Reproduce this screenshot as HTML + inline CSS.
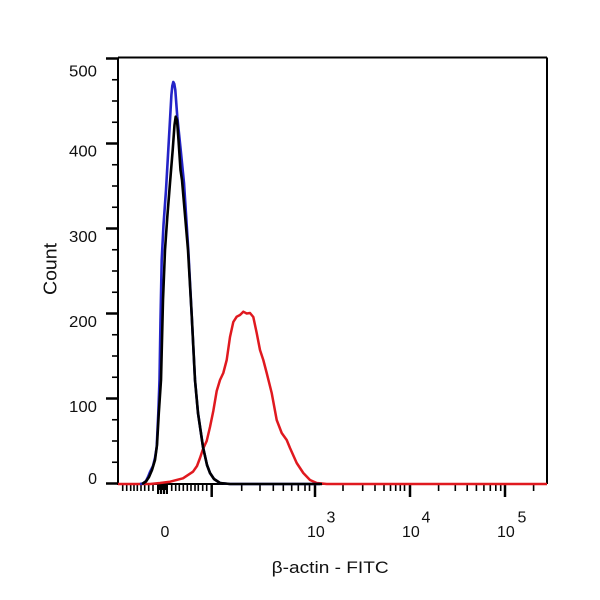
<!DOCTYPE html>
<html>
<head>
<meta charset="utf-8">
<style>
  html,body{margin:0;padding:0;background:#fff;}
  svg{display:block;}
  text{font-family:"Liberation Sans",Arial,sans-serif;fill:#111;}
</style>
</head>
<body>
<svg width="600" height="600" viewBox="0 0 600 600" xmlns="http://www.w3.org/2000/svg">
  <rect width="600" height="600" fill="#fff"/>

  <g stroke="#000" stroke-width="2" fill="none">
    <line x1="118" y1="57.5" x2="547" y2="57.5"/>
    <line x1="547" y1="57.5" x2="547" y2="484"/>
    <line x1="118" y1="57.5" x2="118" y2="484"/>
    <line x1="117" y1="484" x2="547" y2="484"/>
  </g>

  <g stroke="#000" stroke-width="2.5">
    <line x1="106" y1="58.5" x2="118" y2="58.5"/>
    <line x1="106" y1="143.5" x2="118" y2="143.5"/>
    <line x1="106" y1="228.5" x2="118" y2="228.5"/>
    <line x1="106" y1="313.5" x2="118" y2="313.5"/>
    <line x1="106" y1="398.5" x2="118" y2="398.5"/>
    <line x1="106" y1="483.5" x2="118" y2="483.5"/>
  </g>
  <g stroke="#000" stroke-width="1.6">
    <line x1="112" y1="79.75" x2="118" y2="79.75"/>
    <line x1="112" y1="101" x2="118" y2="101"/>
    <line x1="112" y1="122.25" x2="118" y2="122.25"/>
    <line x1="112" y1="164.75" x2="118" y2="164.75"/>
    <line x1="112" y1="186" x2="118" y2="186"/>
    <line x1="112" y1="207.25" x2="118" y2="207.25"/>
    <line x1="112" y1="249.75" x2="118" y2="249.75"/>
    <line x1="112" y1="271" x2="118" y2="271"/>
    <line x1="112" y1="292.25" x2="118" y2="292.25"/>
    <line x1="112" y1="334.75" x2="118" y2="334.75"/>
    <line x1="112" y1="356" x2="118" y2="356"/>
    <line x1="112" y1="377.25" x2="118" y2="377.25"/>
    <line x1="112" y1="419.75" x2="118" y2="419.75"/>
    <line x1="112" y1="441" x2="118" y2="441"/>
    <line x1="112" y1="462.25" x2="118" y2="462.25"/>
  </g>

  <g font-size="16" text-anchor="end">
    <text x="97" y="76.5" textLength="28" lengthAdjust="spacingAndGlyphs">500</text>
    <text x="97" y="156.5" textLength="28" lengthAdjust="spacingAndGlyphs">400</text>
    <text x="97" y="242" textLength="28" lengthAdjust="spacingAndGlyphs">300</text>
    <text x="97" y="327" textLength="28" lengthAdjust="spacingAndGlyphs">200</text>
    <text x="97" y="412" textLength="28" lengthAdjust="spacingAndGlyphs">100</text>
    <text x="97" y="484">0</text>
  </g>

  <g stroke="#000" stroke-width="1.6">
    <line x1="122.7" y1="484" x2="122.7" y2="491"/>
    <line x1="126.7" y1="484" x2="126.7" y2="491"/>
    <line x1="130.7" y1="484" x2="130.7" y2="491"/>
    <line x1="134" y1="484" x2="134" y2="491"/>
    <line x1="137.3" y1="484" x2="137.3" y2="491"/>
    <line x1="141" y1="484" x2="141" y2="491"/>
    <line x1="144.7" y1="484" x2="144.7" y2="491"/>
    <line x1="148.7" y1="484" x2="148.7" y2="491"/>
    <line x1="153" y1="484" x2="153" y2="491"/>
    <line x1="171.7" y1="484" x2="171.7" y2="491"/>
    <line x1="175.7" y1="484" x2="175.7" y2="491"/>
    <line x1="179.3" y1="484" x2="179.3" y2="491"/>
    <line x1="183.3" y1="484" x2="183.3" y2="491"/>
    <line x1="187.3" y1="484" x2="187.3" y2="491"/>
    <line x1="191" y1="484" x2="191" y2="491"/>
    <line x1="195" y1="484" x2="195" y2="491"/>
    <line x1="198.3" y1="484" x2="198.3" y2="491"/>
    <line x1="202.7" y1="484" x2="202.7" y2="491"/>
    <line x1="206.7" y1="484" x2="206.7" y2="491"/>
    <line x1="241.7" y1="484" x2="241.7" y2="491"/>
    <line x1="260" y1="484" x2="260" y2="491"/>
    <line x1="273.3" y1="484" x2="273.3" y2="491"/>
    <line x1="283.3" y1="484" x2="283.3" y2="491"/>
    <line x1="291.7" y1="484" x2="291.7" y2="491"/>
    <line x1="298.3" y1="484" x2="298.3" y2="491"/>
    <line x1="305" y1="484" x2="305" y2="491"/>
    <line x1="309.5" y1="484" x2="309.5" y2="491"/>
    <line x1="343" y1="484" x2="343" y2="491"/>
    <line x1="362.7" y1="484" x2="362.7" y2="491"/>
    <line x1="375" y1="484" x2="375" y2="491"/>
    <line x1="384" y1="484" x2="384" y2="491"/>
    <line x1="390.5" y1="484" x2="390.5" y2="491"/>
    <line x1="395.7" y1="484" x2="395.7" y2="491"/>
    <line x1="400.3" y1="484" x2="400.3" y2="491"/>
    <line x1="404.5" y1="484" x2="404.5" y2="491"/>
    <line x1="438.6" y1="484" x2="438.6" y2="491"/>
    <line x1="455.3" y1="484" x2="455.3" y2="491"/>
    <line x1="467.2" y1="484" x2="467.2" y2="491"/>
    <line x1="476.4" y1="484" x2="476.4" y2="491"/>
    <line x1="483.9" y1="484" x2="483.9" y2="491"/>
    <line x1="490.3" y1="484" x2="490.3" y2="491"/>
    <line x1="495.8" y1="484" x2="495.8" y2="491"/>
    <line x1="500.7" y1="484" x2="500.7" y2="491"/>
    <line x1="533.6" y1="484" x2="533.6" y2="491"/>
  </g>
  <rect x="157" y="484" width="11" height="10" fill="#000"/>
  <g stroke="#fff" stroke-width="0.8">
    <line x1="159.5" y1="490" x2="159.5" y2="494"/>
    <line x1="162.5" y1="490" x2="162.5" y2="494"/>
    <line x1="165.5" y1="490" x2="165.5" y2="494"/>
  </g>
  <g stroke="#000" stroke-width="2.5">
    <line x1="211.7" y1="484" x2="211.7" y2="497"/>
    <line x1="315" y1="484" x2="315" y2="497"/>
    <line x1="410" y1="484" x2="410" y2="497"/>
    <line x1="505" y1="484" x2="505" y2="497"/>
  </g>

  <g font-size="16">
    <text x="165" y="537" text-anchor="middle">0</text>
    <text x="307" y="537">10</text><text x="326.5" y="522.5">3</text>
    <text x="402" y="537">10</text><text x="421.5" y="522.5">4</text>
    <text x="497" y="537">10</text><text x="517.5" y="522.5">5</text>
  </g>

  <text x="271.7" y="573" font-size="17" textLength="117" lengthAdjust="spacingAndGlyphs">β-actin - FITC</text>
  <text transform="translate(56.5,295) rotate(-90)" x="0" y="0" font-size="18" textLength="52" lengthAdjust="spacingAndGlyphs">Count</text>

  <polyline fill="none" stroke="#e0191f" stroke-width="2.5" stroke-linejoin="round"
    points="118,484 150,484 160,483 170,481.7 183,478.3 193,471.7 197,466 200,458 203,449 206.7,441 210,427 213.3,411 216.7,391 220,380 223.3,373 226.7,360 230,337 233.3,322 236.7,316.7 240,315 243.3,311.7 246.7,313.5 250,313 253.3,317 256.7,333 260,350 263.3,360 266.7,373 271.7,393 276.7,420 281.7,433 286.7,440 290,448 296.7,463 303.3,473 310,480 316.7,483 326.7,484 547,484"/>

  <polyline fill="none" stroke="#2424c8" stroke-width="2.6" stroke-linejoin="round"
    points="140,484 143,483.5 146,481 148,477 150,472 153,466 155,458 156.7,447 158.3,413 159.5,380 160.5,320 161.7,260 163.5,225 166,190 168,155 170,120 171.4,95 172.3,86 173.3,82 174.3,84 175.3,90 177.3,117 180.7,150 184,183 188.3,250 191.7,315 195,380 198,413 203,447 207,465 210,473 214,479 220,483 230,484 320,484"/>

  <polyline fill="none" stroke="#000" stroke-width="2.6" stroke-linejoin="round"
    points="142,484 146,481.5 149,477 152,470 155,460 157,445 158.8,413 161,380 163,300 165,250 167.3,217 170,183 172.7,150 174.5,125 175.7,116.7 177,120 178.5,140 180.5,170 182,180 185,215 188,250 191.7,315 195,380 198,413 203,447 207,465 210,473 214,479 220,483 230,484 322,484"/>
</svg>
</body>
</html>
